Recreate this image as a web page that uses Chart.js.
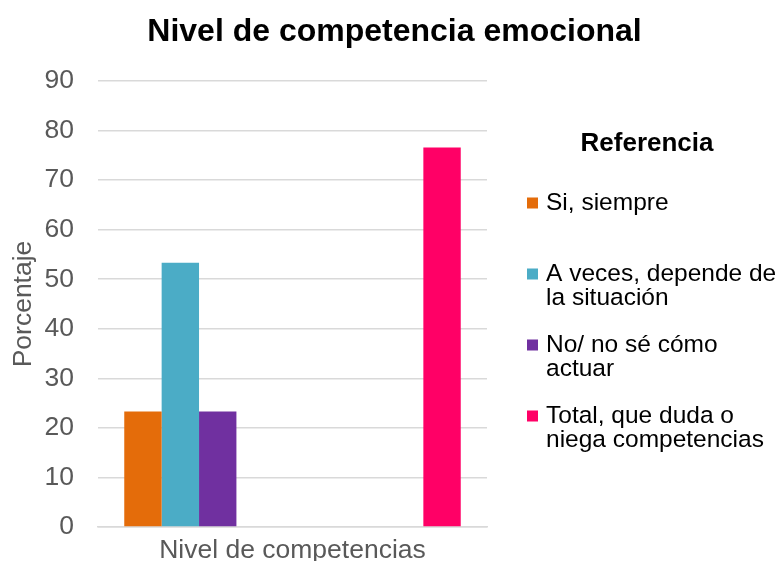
<!DOCTYPE html>
<html>
<head>
<meta charset="utf-8">
<script src="https://cdn.jsdelivr.net/npm/chart.js@4.4.1/dist/chart.umd.min.js"></script>
<style>
  html, body { margin: 0; padding: 0; background: #fff; overflow: hidden; }
  canvas { display: block; }
</style>
</head>
<body>
<canvas id="grafico" width="781" height="561"></canvas>
<script>
// datos
const categorias = ['Nivel de competencias'];
const series = [
  ['Si, siempre'],
  ['A veces, depende de', 'la situación'],
  ['No/ no sé cómo', 'actuar'],
  ['Total, que duda o', 'niega competencias']
];
const valores = [23.3, 53.3, 23.3, 76.6];
const colores = ['#E46C0A', '#4BACC6', '#7030A0', '#FF0066'];
const huecos = 5; // series vacias entre "No" y "Total"
const ticksY = [0, 10, 20, 30, 40, 50, 60, 70, 80, 90];

const fuente = 'Liberation Sans, Arial, sans-serif';
const gris = '#595959';

const datasets = [];
series.forEach((nombre, i) => {
  if (i === 3) {
    for (let k = 0; k < huecos; k++) {
      datasets.push({ label: '', data: [null], backgroundColor: 'rgba(0,0,0,0)', hueco: true });
    }
  }
  datasets.push({ label: nombre, data: [valores[i]], backgroundColor: colores[i] });
});

// leyenda dibujada a mano en el hueco que deja el eje y2
const leyenda = {
  id: 'leyenda',
  afterDraw(chart) {
    const { ctx, chartArea } = chart;
    const xCaja = chartArea.right + 40;
    ctx.save();
    ctx.fillStyle = '#000';
    ctx.textBaseline = 'middle';
    ctx.textAlign = 'center';
    ctx.font = 'bold 26px ' + fuente;
    ctx.fillText('Referencia', chartArea.right + 160, chartArea.top + 63);
    ctx.textAlign = 'left';
    ctx.font = '24.5px ' + fuente;
    let y = chartArea.top + 122;
    chart.data.datasets.filter(d => !d.hueco).forEach(d => {
      ctx.fillStyle = d.backgroundColor;
      ctx.fillRect(xCaja, y - 5.5, 11, 11);
      ctx.fillStyle = '#000';
      d.label.forEach((linea, j) => ctx.fillText(linea, xCaja + 19, y + j * 24.5));
      y += 71;
    });
    ctx.restore();
  }
};

new Chart(document.getElementById('grafico'), {
  type: 'bar',
  data: { labels: categorias, datasets },
  plugins: [leyenda],
  options: {
    responsive: false,
    animation: false,
    devicePixelRatio: 1,
    layout: { padding: { top: 0, right: 0, left: 8, bottom: 0 } },
    datasets: { bar: { categoryPercentage: 0.865, barPercentage: 1 } },
    plugins: {
      title: {
        display: true,
        text: 'Nivel de competencia emocional',
        color: '#000',
        font: { family: fuente, size: 32, weight: 'bold' },
        padding: { top: 13, bottom: 29.6 }
      },
      legend: { display: false },
      tooltip: { enabled: false }
    },
    scales: {
      x: {
        grid: { display: false },
        border: { color: '#D9D9D9', width: 1.5 },
        ticks: { color: gris, padding: 0, font: { family: fuente, size: 26.5 } },
        afterFit: s => { s.height = 34; }
      },
      y: {
        min: 0,
        max: 90,
        afterBuildTicks: axis => { axis.ticks = ticksY.map(v => ({ value: v })); },
        grid: { color: '#D9D9D9', lineWidth: 1.5, drawTicks: false },
        border: { display: false },
        ticks: { color: gris, padding: 24, font: { family: fuente, size: 26.5 } },
        title: {
          display: true,
          text: 'Porcentaje',
          color: gris,
          font: { family: fuente, size: 26.5 },
          padding: { top: 0, bottom: 6 }
        },
        afterFit: s => { s.width = 90; s.paddingTop = 0; s.paddingBottom = 0; }
      },
      y2: {
        position: 'right',
        grid: { display: false },
        border: { display: false },
        ticks: { display: false },
        afterFit: s => { s.width = 294; s.paddingTop = 0; s.paddingBottom = 0; }
      }
    }
  }
});
</script>
</body>
</html>
